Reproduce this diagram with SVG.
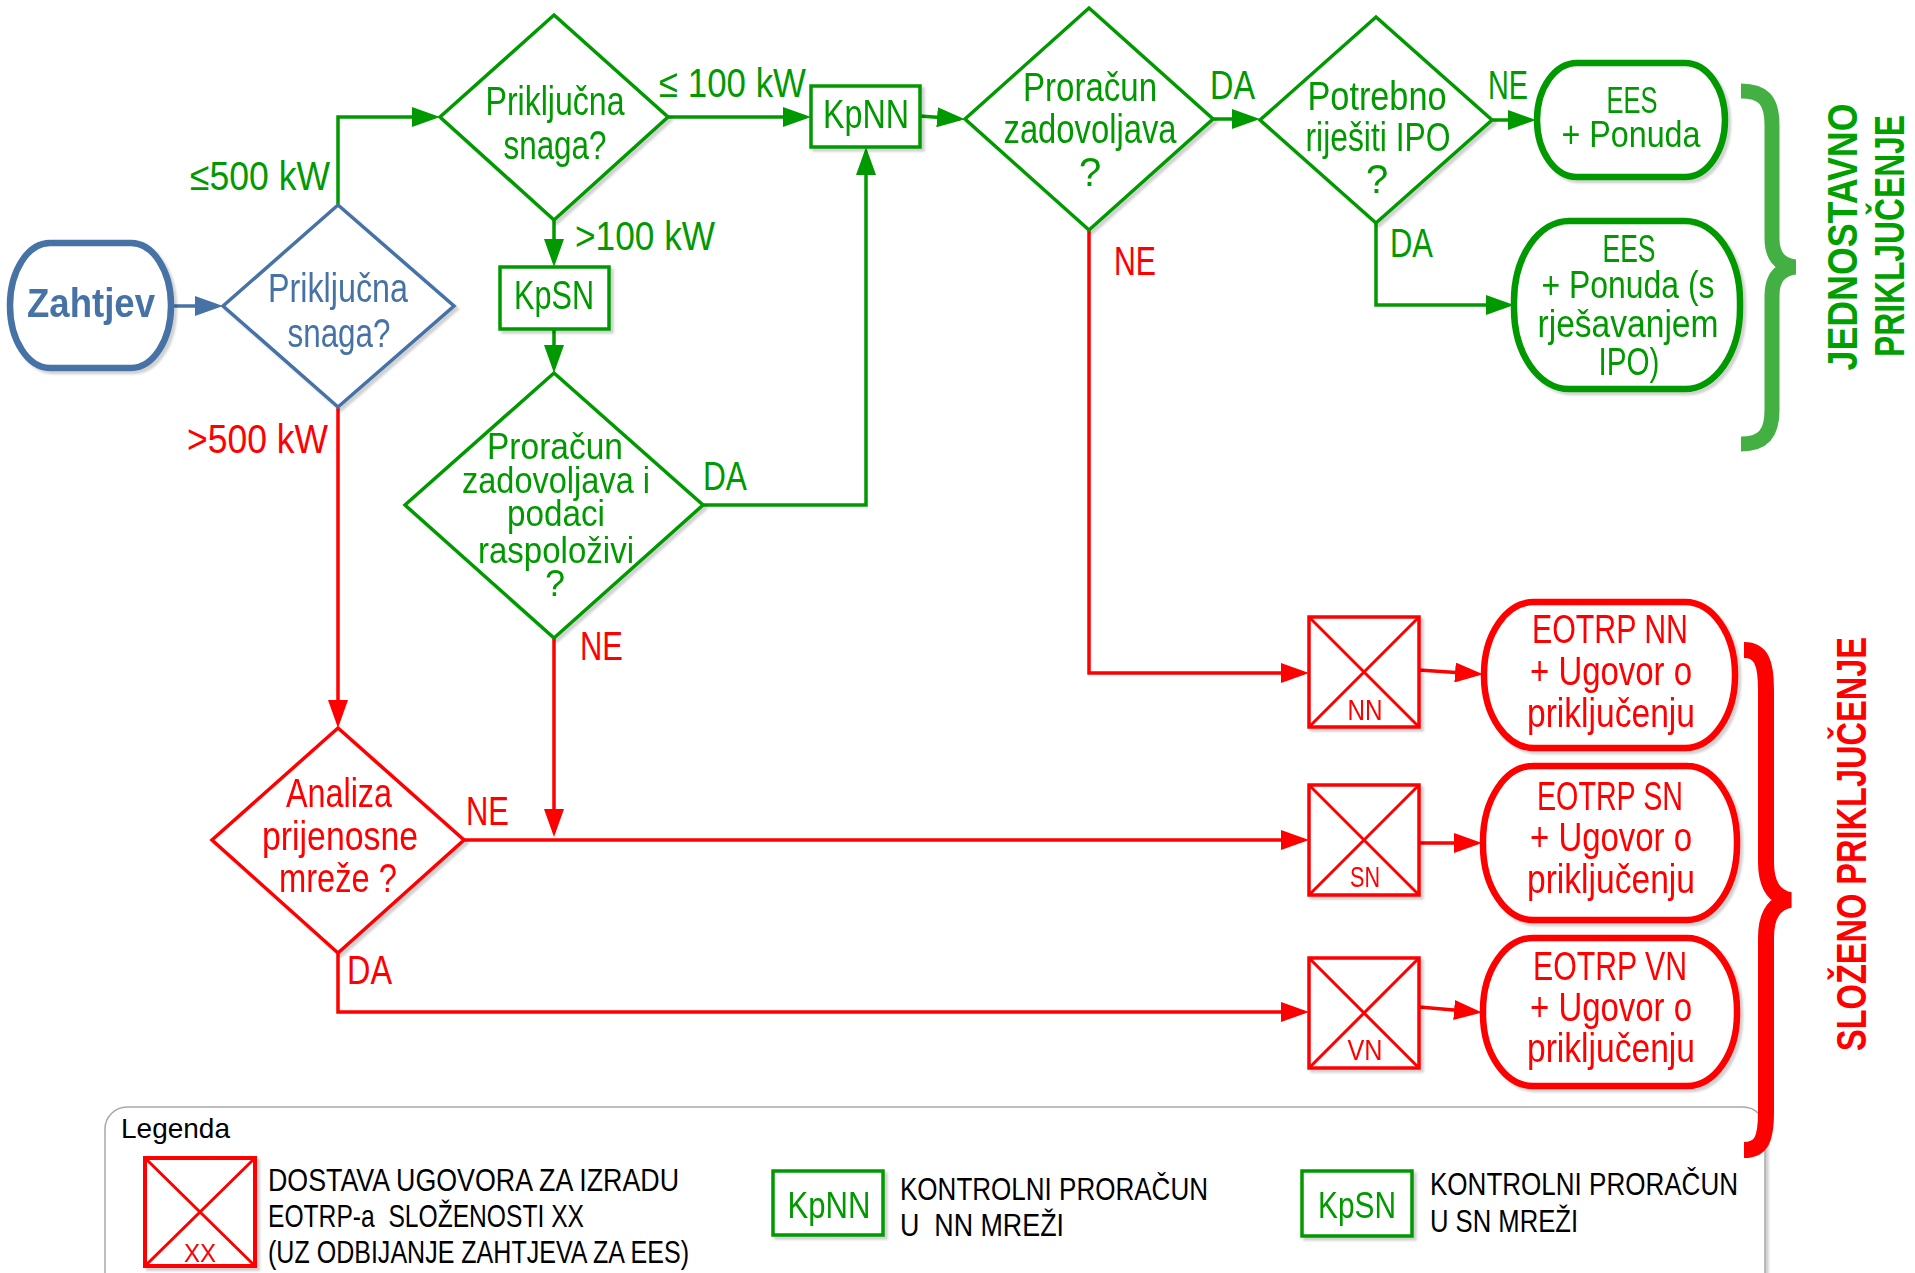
<svg xmlns="http://www.w3.org/2000/svg" width="1915" height="1273" viewBox="0 0 1915 1273">
<defs>
<style>
text { font-family: 'Liberation Sans', Arial, sans-serif; font-size: 40px; }
.m { text-anchor: middle; }
.e { text-anchor: end; }
.tg { fill: #009900; }
.tr { fill: #ff0000; }
.tb { fill: #4672a6; }
.tk { fill: #000; }
.bold { font-weight: bold; }
.pre { white-space: pre; }
.dg { fill: #fff; stroke: #009900; stroke-width: 3.5; }
.dr { fill: #fff; stroke: #ff0000; stroke-width: 3.5; }
.db { fill: #fff; stroke: #4672a6; stroke-width: 3.5; }
.sg { fill: #fff; stroke: #009900; stroke-width: 6.5; }
.sr { fill: #fff; stroke: #ff0000; stroke-width: 6.5; }
.sb { fill: #fff; stroke: #4672a6; stroke-width: 6.5; }
.xl { fill: none; stroke: #ff0000; stroke-width: 3; }
.cg { fill: none; stroke: #009900; stroke-width: 3.5; marker-end: url(#ag); }
.cr { fill: none; stroke: #ff0000; stroke-width: 3.5; marker-end: url(#ar); }
.cb { fill: none; stroke: #4672a6; stroke-width: 3.5; marker-end: url(#ab); }
.sh { filter: url(#shadow); }
</style>
<filter id="shadow" x="-10%" y="-10%" width="130%" height="130%">
<feDropShadow dx="3" dy="3" stdDeviation="1.2" flood-color="#000" flood-opacity="0.18"/>
</filter>
<marker id="ag" markerUnits="userSpaceOnUse" markerWidth="28" markerHeight="20" refX="23" refY="10" orient="auto"><path d="M0,0 L28,10 L0,20 Z" fill="#009900"/></marker>
<marker id="ar" markerUnits="userSpaceOnUse" markerWidth="28" markerHeight="20" refX="23" refY="10" orient="auto"><path d="M0,0 L28,10 L0,20 Z" fill="#ff0000"/></marker>
<marker id="ab" markerUnits="userSpaceOnUse" markerWidth="28" markerHeight="20" refX="23" refY="10" orient="auto"><path d="M0,0 L28,10 L0,20 Z" fill="#4672a6"/></marker>
</defs>
<rect width="1915" height="1273" fill="#fff"/>

<g id="legend">
<rect x="105" y="1107" width="1660" height="200" rx="22" fill="#fff" stroke="#a8a8a8" stroke-width="1.5" class="sh"/>
<text class="tk" x="121" y="1138" style="font-size:28px" textLength="109" lengthAdjust="spacingAndGlyphs">Legenda</text>
<g class="sh">
<rect x="145" y="1158" width="110" height="108" fill="#fff" stroke="#ff0000" stroke-width="4"/>
<path class="xl" d="M145,1158 L255,1266 M255,1158 L145,1266"/>
<text class="tr m" x="200" y="1262" style="font-size:26px" textLength="32" lengthAdjust="spacingAndGlyphs">XX</text>
</g>
<text class="tk" x="268" y="1191" style="font-size:32px" textLength="411" lengthAdjust="spacingAndGlyphs">DOSTAVA UGOVORA ZA IZRADU</text>
<text class="tk pre" x="268" y="1227" style="font-size:32px" textLength="316" lengthAdjust="spacingAndGlyphs">EOTRP-a  SLOŽENOSTI XX</text>
<text class="tk" x="268" y="1263" style="font-size:32px" textLength="421" lengthAdjust="spacingAndGlyphs">(UZ ODBIJANJE ZAHTJEVA ZA EES)</text>
<g class="sh">
<rect x="773" y="1171" width="110" height="64" fill="#fff" stroke="#009900" stroke-width="3.5"/>
<text class="tg m" x="829" y="1218" style="font-size:36px" textLength="83" lengthAdjust="spacingAndGlyphs">KpNN</text>
</g>
<text class="tk" x="900" y="1200" style="font-size:32px" textLength="308" lengthAdjust="spacingAndGlyphs">KONTROLNI PRORAČUN</text>
<text class="tk pre" x="900" y="1236" style="font-size:32px" textLength="164" lengthAdjust="spacingAndGlyphs">U  NN MREŽI</text>
<g class="sh">
<rect x="1302" y="1171" width="110" height="65" fill="#fff" stroke="#009900" stroke-width="3.5"/>
<text class="tg m" x="1357" y="1218" style="font-size:36px" textLength="78" lengthAdjust="spacingAndGlyphs">KpSN</text>
</g>
<text class="tk" x="1430" y="1195" style="font-size:32px" textLength="308" lengthAdjust="spacingAndGlyphs">KONTROLNI PRORAČUN</text>
<text class="tk" x="1430" y="1232" style="font-size:32px" textLength="148" lengthAdjust="spacingAndGlyphs">U SN MREŽI</text>
</g>

<g id="connectors">
<path class="cb" d="M171,306 H218"/>
<path class="cg" d="M338,205 V117 H435"/>
<path class="cr" d="M338,407 V723"/>
<path class="cg" d="M668,117 H806"/>
<path class="cg" d="M554,220 V262"/>
<path class="cg" d="M554,329 V368"/>
<path class="cg" d="M703,505 H866 V152"/>
<path class="cr" d="M554,638 V832"/>
<path class="cr" d="M464,840 H1304"/>
<path class="cr" d="M338,953 V1012 H1304"/>
<path class="cg" d="M920,116 L960,119"/>
<path class="cg" d="M1213,119 H1255"/>
<path class="cr" d="M1089,230 V673 H1304"/>
<path class="cg" d="M1492,120 H1531"/>
<path class="cg" d="M1376,223 V305 H1509"/>
<path class="cr" d="M1419,670 L1478,674"/>
<path class="cr" d="M1419,843 H1477"/>
<path class="cr" d="M1419,1007 L1477,1012"/>
<text class="tg e" x="330" y="190" textLength="140" lengthAdjust="spacingAndGlyphs">≤500 kW</text>
<text class="tr e" x="328" y="453" textLength="141" lengthAdjust="spacingAndGlyphs">&gt;500 kW</text>
<text class="tg" x="575" y="250" textLength="140" lengthAdjust="spacingAndGlyphs">&gt;100 kW</text>
<text class="tg" x="659" y="97" textLength="147" lengthAdjust="spacingAndGlyphs">≤ 100 kW</text>
<text class="tg" x="703" y="490" textLength="44" lengthAdjust="spacingAndGlyphs">DA</text>
<text class="tr" x="580" y="660" textLength="43" lengthAdjust="spacingAndGlyphs">NE</text>
<text class="tr" x="466" y="825" textLength="43" lengthAdjust="spacingAndGlyphs">NE</text>
<text class="tr" x="347" y="984" textLength="45" lengthAdjust="spacingAndGlyphs">DA</text>
<text class="tr" x="1114" y="275" textLength="42" lengthAdjust="spacingAndGlyphs">NE</text>
<text class="tg" x="1210" y="99" textLength="45" lengthAdjust="spacingAndGlyphs">DA</text>
<text class="tg" x="1488" y="99" textLength="40" lengthAdjust="spacingAndGlyphs">NE</text>
<text class="tg" x="1390" y="257" textLength="43" lengthAdjust="spacingAndGlyphs">DA</text>
</g>

<g id="zahtjev" class="sh">
<rect class="sb" x="10" y="243" width="161" height="125" rx="40" ry="62"/>
<text class="tb m bold" x="91" y="317" textLength="128" lengthAdjust="spacingAndGlyphs">Zahtjev</text>
</g>

<g id="snaga-blue" class="sh">
<polygon class="db" points="338,205 454,306 338,407 223,306"/>
<text class="tb m" x="338" y="302" textLength="140" lengthAdjust="spacingAndGlyphs">Priključna</text>
<text class="tb m" x="339" y="347" textLength="103" lengthAdjust="spacingAndGlyphs">snaga?</text>
</g>

<g id="snaga-green" class="sh">
<polygon class="dg" points="554,15 668,117 554,220 440,117"/>
<text class="tg m" x="555" y="115" textLength="139" lengthAdjust="spacingAndGlyphs">Priključna</text>
<text class="tg m" x="555" y="159" textLength="103" lengthAdjust="spacingAndGlyphs">snaga?</text>
</g>

<g id="kpsn" class="sh">
<rect class="dg" x="500" y="267" width="109" height="62"/>
<text class="tg m" x="554" y="309" textLength="80" lengthAdjust="spacingAndGlyphs">KpSN</text>
</g>

<g id="kpnn" class="sh">
<rect class="dg" x="811" y="86" width="109" height="61"/>
<text class="tg m" x="866" y="128" textLength="86" lengthAdjust="spacingAndGlyphs">KpNN</text>
</g>

<g id="proracun-sn" class="sh">
<polygon class="dg" points="554,373 703,505 554,638 405,505"/>
<text class="tg m" x="555" y="459" style="font-size:36px" textLength="136" lengthAdjust="spacingAndGlyphs">Proračun</text>
<text class="tg m" x="556" y="493" style="font-size:36px" textLength="188" lengthAdjust="spacingAndGlyphs">zadovoljava i</text>
<text class="tg m" x="556" y="526" style="font-size:36px" textLength="98" lengthAdjust="spacingAndGlyphs">podaci</text>
<text class="tg m" x="556" y="563" style="font-size:36px" textLength="156" lengthAdjust="spacingAndGlyphs">raspoloživi</text>
<text class="tg m" x="555" y="596" style="font-size:36px">?</text>
</g>

<g id="proracun-nn" class="sh">
<polygon class="dg" points="1089,8 1213,119 1089,230 965,119"/>
<text class="tg m" x="1090" y="101" textLength="134" lengthAdjust="spacingAndGlyphs">Proračun</text>
<text class="tg m" x="1090" y="143" textLength="173" lengthAdjust="spacingAndGlyphs">zadovoljava</text>
<text class="tg m" x="1090" y="186">?</text>
</g>

<g id="potrebno" class="sh">
<polygon class="dg" points="1376,17 1492,120 1376,223 1260,120"/>
<text class="tg m" x="1377" y="110" textLength="139" lengthAdjust="spacingAndGlyphs">Potrebno</text>
<text class="tg m" x="1378" y="151" textLength="145" lengthAdjust="spacingAndGlyphs">riješiti IPO</text>
<text class="tg m" x="1377" y="193">?</text>
</g>

<g id="ees-ponuda" class="sh">
<rect class="sg" x="1537" y="63" width="188" height="114" rx="40" ry="57"/>
<text class="tg m" x="1632" y="113" style="font-size:37px" textLength="51" lengthAdjust="spacingAndGlyphs">EES</text>
<text class="tg m" x="1631" y="147" style="font-size:37px" textLength="139" lengthAdjust="spacingAndGlyphs">+ Ponuda</text>
</g>

<g id="ees-ponuda-ipo" class="sh">
<rect class="sg" x="1514" y="221" width="226" height="168" rx="55" ry="80"/>
<text class="tg m" x="1629" y="262" style="font-size:38px" textLength="53" lengthAdjust="spacingAndGlyphs">EES</text>
<text class="tg m" x="1628" y="298" style="font-size:38px" textLength="173" lengthAdjust="spacingAndGlyphs">+ Ponuda (s</text>
<text class="tg m" x="1628" y="337" style="font-size:38px" textLength="181" lengthAdjust="spacingAndGlyphs">rješavanjem</text>
<text class="tg m" x="1629" y="375" style="font-size:38px" textLength="61" lengthAdjust="spacingAndGlyphs">IPO)</text>
</g>

<g id="analiza" class="sh">
<polygon class="dr" points="338,728 464,840 338,953 212,840"/>
<text class="tr m" x="339" y="807" textLength="106" lengthAdjust="spacingAndGlyphs">Analiza</text>
<text class="tr m" x="340" y="850" textLength="156" lengthAdjust="spacingAndGlyphs">prijenosne</text>
<text class="tr m" x="338" y="892" textLength="118" lengthAdjust="spacingAndGlyphs">mreže ?</text>
</g>

<g id="box-nn" class="sh">
<rect x="1309" y="617" width="110" height="110" fill="#fff" stroke="#ff0000" stroke-width="3.5"/>
<path class="xl" d="M1309,617 L1419,727 M1419,617 L1309,727"/>
<text class="tr m" x="1365" y="720" style="font-size:30px" textLength="35" lengthAdjust="spacingAndGlyphs">NN</text>
</g>
<g id="box-sn" class="sh">
<rect x="1309" y="785" width="110" height="110" fill="#fff" stroke="#ff0000" stroke-width="3.5"/>
<path class="xl" d="M1309,785 L1419,895 M1419,785 L1309,895"/>
<text class="tr m" x="1365" y="887" style="font-size:30px" textLength="30" lengthAdjust="spacingAndGlyphs">SN</text>
</g>
<g id="box-vn" class="sh">
<rect x="1309" y="958" width="110" height="110" fill="#fff" stroke="#ff0000" stroke-width="3.5"/>
<path class="xl" d="M1309,958 L1419,1068 M1419,958 L1309,1068"/>
<text class="tr m" x="1365" y="1060" style="font-size:30px" textLength="35" lengthAdjust="spacingAndGlyphs">VN</text>
</g>

<g id="eotrp-nn" class="sh">
<rect class="sr" x="1484" y="602" width="251" height="146" rx="50" ry="72"/>
<text class="tr m" x="1610" y="643" textLength="156" lengthAdjust="spacingAndGlyphs">EOTRP NN</text>
<text class="tr m" x="1611" y="685" textLength="162" lengthAdjust="spacingAndGlyphs">+ Ugovor o</text>
<text class="tr m" x="1611" y="727" textLength="168" lengthAdjust="spacingAndGlyphs">priključenju</text>
</g>
<g id="eotrp-sn" class="sh">
<rect class="sr" x="1483" y="766" width="254" height="154" rx="50" ry="75"/>
<text class="tr m" x="1610" y="810" textLength="146" lengthAdjust="spacingAndGlyphs">EOTRP SN</text>
<text class="tr m" x="1611" y="851" textLength="162" lengthAdjust="spacingAndGlyphs">+ Ugovor o</text>
<text class="tr m" x="1611" y="893" textLength="168" lengthAdjust="spacingAndGlyphs">priključenju</text>
</g>
<g id="eotrp-vn" class="sh">
<rect class="sr" x="1483" y="938" width="254" height="148" rx="50" ry="72"/>
<text class="tr m" x="1610" y="980" textLength="154" lengthAdjust="spacingAndGlyphs">EOTRP VN</text>
<text class="tr m" x="1611" y="1021" textLength="162" lengthAdjust="spacingAndGlyphs">+ Ugovor o</text>
<text class="tr m" x="1611" y="1062" textLength="168" lengthAdjust="spacingAndGlyphs">priključenju</text>
</g>

<g id="group-jednostavno">
<path d="M1741,91 C1763,91 1772,100 1772,125 L1772,238 C1772,256 1780,265 1795,267 C1780,269 1772,278 1772,296 L1772,410 C1772,434 1763,444 1741,444" fill="none" stroke="#44b044" stroke-width="15"/>
<text class="bold" x="0" y="0" transform="translate(1857,237) rotate(-90)" text-anchor="middle" style="font-size:42px;fill:#00a000" textLength="267" lengthAdjust="spacingAndGlyphs">JEDNOSTAVNO</text>
<text class="bold" x="0" y="0" transform="translate(1904,236) rotate(-90)" text-anchor="middle" style="font-size:42px;fill:#00a000" textLength="242" lengthAdjust="spacingAndGlyphs">PRIKLJUČENJE</text>
</g>

<g id="group-slozeno">
<path d="M1744,650 C1761,650 1766,662 1766,690 L1766,862 C1766,886 1775,897 1790,900 C1775,903 1766,914 1766,938 L1766,1112 C1766,1140 1761,1150 1744,1150" fill="none" stroke="#ff0000" stroke-width="16"/>
<text class="bold" x="0" y="0" transform="translate(1866,844) rotate(-90)" text-anchor="middle" style="font-size:42px;fill:#ff0000" textLength="414" lengthAdjust="spacingAndGlyphs">SLOŽENO PRIKLJUČENJE</text>
</g>
</svg>
